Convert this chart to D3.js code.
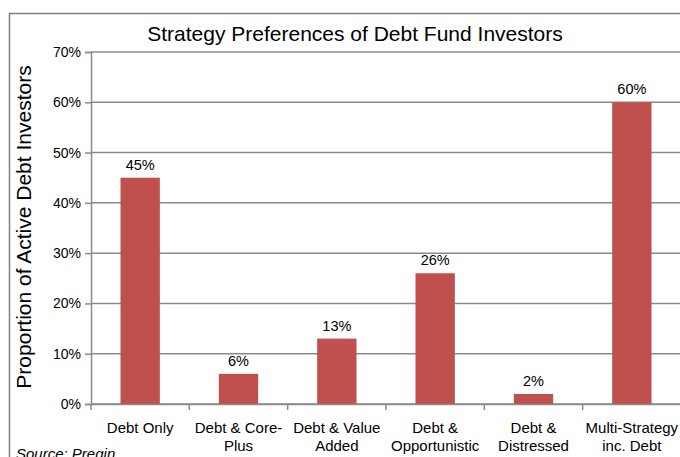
<!DOCTYPE html>
<html>
<head>
<meta charset="utf-8">
<script src="https://cdn.jsdelivr.net/npm/d3@7"></script>
<style>
  body { margin: 0; background: #fff; }
  svg { display: block; font-family: "Liberation Sans", Arial, sans-serif; }
</style>
</head>
<body>
<div id="chart"></div>
<script>
var categories = [
  ["Debt Only"],
  ["Debt & Core-", "Plus"],
  ["Debt & Value", "Added"],
  ["Debt &", "Opportunistic"],
  ["Debt &", "Distressed"],
  ["Multi-Strategy", "inc. Debt"]
];
var values = [45, 6, 13, 26, 2, 60];
var yTicks = [0, 10, 20, 30, 40, 50, 60, 70];

var W = 680, H = 457;
var margin = {top: 52, left: 91, right: -1, bottom: 53};
var width = W - margin.left - margin.right;
var height = H - margin.top - margin.bottom;

var svg = d3.select("#chart").append("svg")
  .attr("width", W).attr("height", H);

// outer frame of the chart (cropped on the right/bottom)
svg.append("rect")
  .attr("x", 9.5).attr("y", 13.5)
  .attr("width", 720).attr("height", 500)
  .attr("fill", "none").attr("stroke", "#7f7f7f").attr("stroke-width", 1.5);

var g = svg.append("g")
  .attr("transform", "translate(" + margin.left + "," + margin.top + ")");

var x = d3.scaleBand()
  .domain(d3.range(values.length))
  .range([0, width])
  .paddingInner(0.6).paddingOuter(0.3);

var x2 = d3.scaleBand()
  .domain(d3.range(values.length))
  .range([0, width]);

var y = d3.scaleLinear().domain([0, 70]).range([height, 0]);

// gridlines
g.selectAll(".grid").data(yTicks).enter().append("line")
  .attr("x1", 0).attr("x2", width)
  .attr("y1", function(d) { return y(d); })
  .attr("y2", function(d) { return y(d); })
  .attr("stroke", "#8a8a8a").attr("stroke-width", 1.5);

// y axis
var yAxis = d3.axisLeft(y).tickValues(yTicks)
  .tickFormat(function(d) { return d + "%"; })
  .tickSize(6).tickPadding(4);
var ya = g.append("g").call(yAxis);
ya.select(".domain").attr("stroke", "#8a8a8a").attr("stroke-width", 1.5);
ya.selectAll(".tick line").attr("stroke", "#8a8a8a").attr("stroke-width", 1.5);
ya.selectAll("text").attr("font-size", 14).attr("fill", "#000")
  .attr("font-family", "Liberation Sans, Arial, sans-serif");

// bars
g.selectAll(".bar").data(values).enter().append("rect")
  .attr("x", function(d, i) { return x(i); })
  .attr("y", function(d) { return y(d); })
  .attr("width", x.bandwidth())
  .attr("height", function(d) { return height - y(d); })
  .attr("fill", "#C0504D");

// bar labels
g.selectAll(".lbl").data(values).enter().append("text")
  .attr("x", function(d, i) { return x(i) + x.bandwidth() / 2; })
  .attr("y", function(d) { return y(d) - 8; })
  .attr("text-anchor", "middle")
  .attr("font-size", 14.5)
  .text(function(d) { return d + "%"; });

// x axis
var xAxis = d3.axisBottom(x2).tickFormat("").tickSize(0);
var xa = g.append("g").attr("transform", "translate(0," + height + ")").call(xAxis);
xa.select(".domain").attr("stroke", "#8a8a8a").attr("stroke-width", 1.5);
xa.selectAll(".tick").remove();
var bounds = d3.range(values.length + 1);
xa.selectAll(".bt").data(bounds).enter().append("line")
  .attr("x1", function(d) { return d < values.length ? x2(d) : width; })
  .attr("x2", function(d) { return d < values.length ? x2(d) : width; })
  .attr("y1", 0).attr("y2", 6)
  .attr("stroke", "#8a8a8a").attr("stroke-width", 1.5);

var xl = g.selectAll(".xl").data(categories).enter().append("text")
  .attr("x", function(d, i) { return x2(i) + x2.bandwidth() / 2; })
  .attr("y", height + 29)
  .attr("text-anchor", "middle")
  .attr("font-size", 15);
xl.selectAll("tspan").data(function(d) { return d; }).enter().append("tspan")
  .attr("x", function() { return d3.select(this.parentNode).attr("x"); })
  .attr("dy", function(d, i) { return i === 0 ? 0 : 18; })
  .text(function(d) { return d; });

// title
svg.append("text")
  .attr("x", 355).attr("y", 41)
  .attr("text-anchor", "middle")
  .attr("font-size", 21)
  .text("Strategy Preferences of Debt Fund Investors");

// y label
svg.append("text")
  .attr("transform", "rotate(-90)")
  .attr("x", -(margin.top + height / 2) + 1).attr("y", 31)
  .attr("text-anchor", "middle")
  .attr("font-size", 21)
  .text("Proportion of Active Debt Investors");

// source
svg.append("text")
  .attr("x", 16).attr("y", 459)
  .attr("font-size", 15).attr("font-style", "italic")
  .text("Source: Preqin");
</script>
</body>
</html>
